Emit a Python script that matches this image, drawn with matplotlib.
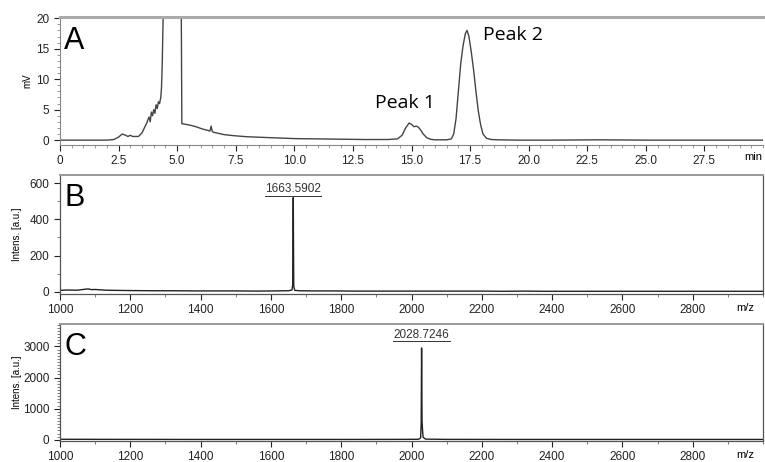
import matplotlib
matplotlib.use("Agg")
import matplotlib.pyplot as plt
from matplotlib.ticker import MultipleLocator, FixedLocator

plt.rcParams['font.family'] = ['Liberation Sans', 'DejaVu Sans']

# ---- Panel A: HPLC chromatogram (time in min, signal in mV) ----
hplc_time = [0.0, 1.0, 2.0, 2.3, 2.5, 2.65, 2.8, 2.9, 3.0, 3.1, 3.2, 3.35, 3.5, 3.6, 3.7,
             3.8, 3.85, 3.9, 3.95, 4.0, 4.05, 4.1, 4.15, 4.2, 4.25, 4.3, 4.33, 4.36, 4.4,
             4.45, 4.5, 4.6, 5.1, 5.15, 5.2, 5.5, 5.8, 6.1, 6.4, 6.45, 6.5, 6.55, 7.0, 7.5,
             8.0, 9.0, 10.0, 11.0, 12.0, 13.0, 14.0, 14.4, 14.6, 14.75, 14.9, 15.0, 15.1,
             15.2, 15.3, 15.4, 15.5, 15.65, 15.8, 16.0, 16.5, 16.7, 16.8, 16.9, 17.0, 17.1,
             17.2, 17.3, 17.37, 17.45, 17.55, 17.65, 17.75, 17.85, 17.95, 18.05, 18.2, 18.4,
             18.7, 19.5, 21.0, 23.0, 25.0, 27.0, 29.0, 30.0]
hplc_mv = [0.0, 0.0, 0.0, 0.1, 0.5, 1.0, 0.8, 0.6, 0.8, 0.6, 0.6, 0.6, 1.2, 2.0, 2.8,
           3.8, 3.0, 4.6, 4.0, 5.0, 4.4, 5.8, 5.2, 6.3, 6.0, 7.0, 8.5, 12.0, 20.0,
           40.0, 80.0, 100.0, 100.0, 40.0, 2.7, 2.5, 2.2, 1.8, 1.5, 2.3, 1.4, 1.3, 0.9, 0.7,
           0.55, 0.4, 0.25, 0.2, 0.15, 0.1, 0.1, 0.2, 0.8, 2.0, 2.8, 2.6, 2.2,
           2.3, 2.1, 1.6, 1.0, 0.4, 0.15, 0.05, 0.05, 0.2, 1.0, 3.5, 8.0, 12.5,
           15.5, 17.5, 18.0, 17.0, 14.5, 11.5, 8.0, 4.8, 2.5, 1.0, 0.3, 0.1,
           0.05, 0.0, 0.0, 0.05, 0.0, 0.0, 0.0, 0.0]

# ---- Panel B: mass spectrum of Peak 1 ----
ms_b_mz = [1000, 1020, 1050, 1070, 1080, 1090, 1100, 1130, 1160, 1200, 1260, 1320, 1380,
           1440, 1500, 1560, 1610, 1650, 1660, 1662, 1663.59, 1665, 1668, 1680, 1720,
           1780, 1840, 1900, 1960, 2020, 2080, 2140, 2200, 2260, 2320, 2380, 2440, 2500,
           2560, 2620, 2680, 2740, 2800, 2860, 2920, 2980, 3000]
ms_b_int = [8, 10, 9, 14, 16, 12, 13, 9, 8, 7, 6, 6, 5,
            5, 5, 4, 5, 6, 10, 40, 520, 30, 8, 6, 5,
            5, 4, 4, 4, 4, 4, 4, 4, 3, 4, 3, 3, 3,
            3, 3, 3, 3, 3, 3, 3, 3, 3]
label_b = "1663.5902"
peak_b = 1663.59

# ---- Panel C: mass spectrum of Peak 2 ----
ms_c_mz = [1000, 1200, 1400, 1600, 1800, 1950, 2020, 2026, 2027.5, 2028.72, 2030, 2031.5,
           2033, 2040, 2100, 2300, 2500, 2700, 2900, 3000]
ms_c_int = [15, 12, 10, 10, 10, 12, 15, 60, 500, 2950, 600, 300, 80, 20, 12, 10, 10, 10, 10, 10]
label_c = "2028.7246"
peak_c = 2028.72

fig = plt.figure(figsize=(7.65, 4.62), dpi=100)
L, W = 60 / 765, 703 / 765
axA = fig.add_axes([L, 1 - 145 / 462, W, 128 / 462])
axB = fig.add_axes([L, 1 - 294 / 462, W, 119 / 462])
axC = fig.add_axes([L, 1 - 441 / 462, W, 117 / 462])

tick_kw = dict(labelsize=8.5, colors='#222222', direction='out', width=0.8)

# Panel A
axA.plot(hplc_time, hplc_mv, color='#444444', lw=1.0)
axA.set_xlim(0, 30)
axA.set_ylim(-0.8, 20.2)
axA.xaxis.set_major_locator(FixedLocator([0, 2.5, 5, 7.5, 10, 12.5, 15, 17.5, 20, 22.5, 25, 27.5]))
axA.xaxis.set_minor_locator(MultipleLocator(0.5))
axA.yaxis.set_major_locator(MultipleLocator(5))
axA.yaxis.set_minor_locator(MultipleLocator(1))
axA.set_xticklabels(['0', '2.5', '5.0', '7.5', '10.0', '12.5', '15.0', '17.5', '20.0',
                     '22.5', '25.0', '27.5'])
axA.tick_params(which='major', length=4, **tick_kw)
axA.tick_params(which='minor', length=2, color='#888888', width=0.6)
axA.spines['right'].set_visible(False)
axA.spines['top'].set_color('#aaaaaa')
axA.spines['top'].set_linewidth(2.2)
axA.spines['left'].set_color('#888888')
axA.spines['bottom'].set_color('#888888')
axA.set_ylabel('mV', fontsize=7)
axA.yaxis.set_label_coords(-0.039, 0.5)
axA.text(0.006, 0.93, 'A', transform=axA.transAxes, fontsize=22, va='top', ha='left')
axA.text(14.7, 6.1, 'Peak 1', fontsize=14, ha='center', va='center', family='Open Sans')
axA.text(19.35, 17.2, 'Peak 2', fontsize=14, ha='center', va='center', family='Open Sans')
axA.text(29.6, -2.75, 'min', fontsize=8, ha='center', va='center', clip_on=False)

def ms_panel(ax, mz, inten, ylim, ymaj, ymin_, letter, label, peak, label_y):
    ax.plot(mz, inten, color='#222222', lw=1.0)
    ax.set_xlim(1000, 3000)
    ax.set_ylim(*ylim)
    ax.xaxis.set_major_locator(FixedLocator(list(range(1000, 3000, 200))))
    ax.xaxis.set_minor_locator(MultipleLocator(100))
    ax.yaxis.set_major_locator(MultipleLocator(ymaj))
    ax.yaxis.set_minor_locator(MultipleLocator(ymin_))
    ax.tick_params(which='major', length=4, **tick_kw)
    ax.tick_params(which='minor', length=2.5, color='#666666', width=0.6)
    for s in ax.spines.values():
        s.set_color('#555555')
        s.set_linewidth(0.9)
    ax.spines['top'].set_color('#999999')
    ax.spines['top'].set_linewidth(1.4)
    ax.set_ylabel('Intens. [a.u.]', fontsize=7)
    ax.yaxis.set_label_coords(-0.054, 0.5)
    ax.text(0.006, 0.93, letter, transform=ax.transAxes, fontsize=22, va='top', ha='left')
    ax.text(peak, label_y, label, fontsize=8.5, ha='center', va='bottom', color='#333333')
    # underline of the peak label
    half = 80
    ax.plot([peak - half, peak + half], [label_y - (ylim[1] - ylim[0]) * 0.005] * 2,
            color='#333333', lw=0.7)
    ax.text(2950, ylim[0] - (ylim[1] - ylim[0]) * 0.12, 'm/z', fontsize=8,
            ha='center', va='center', clip_on=False)

ms_panel(axB, ms_b_mz, ms_b_int, (-12, 645), 200, 100, 'B', label_b, peak_b, 535)
ms_panel(axC, ms_c_mz, ms_c_int, (-40, 3720), 1000, 100, 'C', label_c, peak_c, 3180)

fig.savefig('out.png', dpi=100)
